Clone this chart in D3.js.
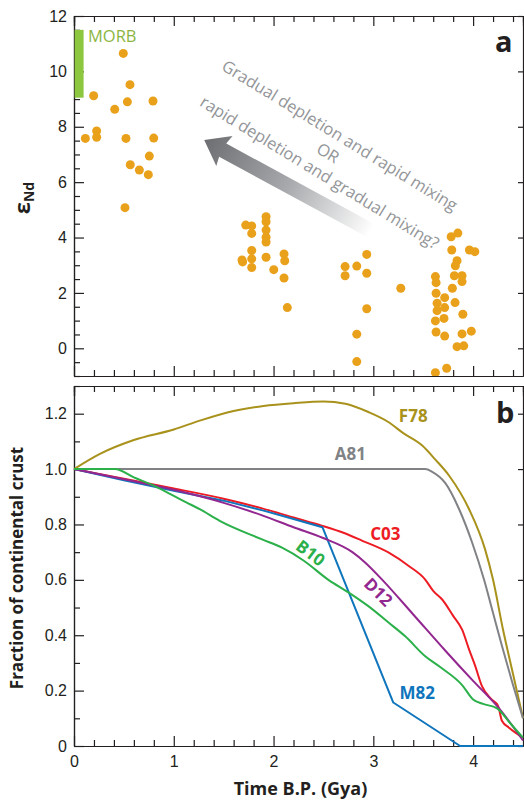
<!DOCTYPE html>
<html>
<head>
<meta charset="utf-8">
<script src="https://cdn.jsdelivr.net/npm/d3@7"></script>
<style>
  body { margin: 0; background: #fff; }
  svg { font-family: "Open Sans", "Noto Sans", sans-serif; }
  .axis path, .axis line { stroke: #231f20; stroke-width: 1.2; }
  .axis text { font-size: 16px; fill: #231f20; }
</style>
</head>
<body>
<svg id="chart" width="524" height="800"></svg>
<script>
// ---- panel a : eps Nd samples  [age Gya, eps Nd]
var samples = [
  [0.494,10.65],[0.197,9.12],[0.561,9.52],[0.535,8.9],[0.792,8.93],[0.408,8.63],
  [0.227,7.85],[0.227,7.62],[0.114,7.58],[0.521,7.58],[0.799,7.59],[0.755,6.94],
  [0.564,6.63],[0.655,6.44],[0.745,6.27],[0.511,5.08],
  [1.721,4.45],[1.781,4.42],[1.781,4.15],[1.781,3.53],[1.684,3.19],[1.690,3.12],
  [1.781,3.23],[1.781,2.92],
  [1.925,4.75],[1.925,4.57],[1.925,4.27],[1.925,4.01],[1.925,3.84],[1.925,3.29],
  [2.002,2.84],[2.105,3.41],[2.112,3.16],[2.105,2.54],[2.138,1.47],
  [2.717,2.95],[2.717,2.62],[2.834,2.97],[2.934,3.39],[2.934,2.71],[2.934,1.43],
  [2.834,0.51],[2.834,-0.48],
  [3.275,2.17],
  [3.622,2.59],[3.629,2.37],[3.629,1.99],[3.639,1.63],[3.639,1.36],[3.622,0.99],
  [3.629,0.59],[3.622,-0.88],
  [3.715,1.83],[3.715,1.47],[3.708,1.08],[3.715,0.44],[3.735,-0.72],
  [3.780,4.03],[3.847,4.16],[3.786,3.55],[3.839,3.16],[3.822,2.98],[3.812,2.62],
  [3.889,2.62],[3.889,2.41],[3.792,2.17],[3.819,1.65],[3.897,1.23],[3.889,0.52],
  [3.982,0.62],[3.839,0.06],[3.906,0.09],[3.963,3.55],[4.017,3.49]
];
var morbRange = [9.05, 11.5];

// ---- panel b : fraction of continental crust models
var f78 = [[0,1.0],[0.26,1.055],[0.6,1.105],[1.0,1.143],[1.26,1.175],[1.6,1.21],[1.9,1.228],
  [2.2,1.238],[2.5,1.244],[2.72,1.236],[2.95,1.206],[3.15,1.17],[3.3,1.13],[3.49,1.085],
  [3.62,1.035],[3.76,0.976],[3.96,0.855],[4.12,0.71],[4.2,0.6],[4.3,0.42],[4.4,0.26],[4.5,0.1]];
var a81 = [[0,1.0],[3.52,1.0],[3.59,0.99],[3.72,0.95],[3.86,0.855],[3.99,0.735],[4.11,0.6],
  [4.2,0.48],[4.29,0.36],[4.4,0.22],[4.5,0.1]];
var c03 = [[0,1.0],[0.5,0.965],[1.0,0.93],[1.5,0.893],[1.885,0.858],[2.2,0.825],[2.49,0.795],
  [2.7,0.77],[2.89,0.741],[3.155,0.698],[3.355,0.65],[3.52,0.601],[3.6,0.56],[3.69,0.529],
  [3.8,0.47],[3.89,0.42],[3.96,0.348],[4.02,0.29],[4.09,0.215],[4.18,0.17],[4.25,0.145],
  [4.29,0.09],[4.36,0.066],[4.5,0.03]];
var m82 = [[0,1.0],[0.5,0.96],[1.0,0.922],[1.5,0.886],[1.9,0.85],[2.2,0.82],[2.49,0.79],
  [3.2,0.157],[3.87,0],[4.5,0]];
var d12 = [[0,1.0],[0.5,0.963],[1.0,0.925],[1.5,0.878],[1.885,0.833],[2.2,0.79],[2.49,0.752],
  [2.79,0.70],[2.92,0.662],[3.09,0.60],[3.4,0.475],[3.72,0.345],[4.0,0.235],[4.25,0.14],[4.5,0.02]];
var b10 = [[0,1.0],[0.41,1.0],[0.6,0.97],[0.8,0.94],[1.0,0.903],[1.13,0.879],[1.26,0.855],
  [1.46,0.813],[1.885,0.746],[2.085,0.716],[2.3,0.67],[2.55,0.60],[2.75,0.555],[2.95,0.505],
  [3.155,0.445],[3.32,0.396],[3.52,0.324],[3.67,0.285],[3.89,0.22],[4.0,0.168],[4.1,0.152],
  [4.24,0.136],[4.37,0.083],[4.5,0.03]];

var models = [
  {name: 'F78', data: f78, color: '#a8921c', lab: [3.40, 1.19], rot: 0, smooth: true},
  {name: 'A81', data: a81, color: '#808285', lab: [2.77, 1.055], rot: 0, smooth: true},
  {name: 'C03', data: c03, color: '#ed1c24', lab: [3.12, 0.766], rot: 0, smooth: true},
  {name: 'M82', data: m82, color: '#0f75bc', lab: [3.44, 0.191], rot: 0, smooth: false},
  {name: 'D12', data: d12, color: '#92278f', lab: [3.05, 0.556], rot: 45, smooth: true},
  {name: 'B10', data: b10, color: '#2bb04a', lab: [2.37, 0.697], rot: 37, smooth: true}
];

var xTicks = [0, 1, 2, 3, 4];
var yTicksA = [0, 2, 4, 6, 8, 10, 12];
var yTicksB = [0, 0.2, 0.4, 0.6, 0.8, 1.0, 1.2];

var svg = d3.select('#chart');
var left = 74, right = 523;
var topA = 16, botA = 376, topB = 386, botB = 746;

var x = d3.scaleLinear().domain([0, 4.5]).range([left, right]);
var yA = d3.scaleLinear().domain([-1, 12]).range([botA, topA]);
var yB = d3.scaleLinear().domain([0, 1.3]).range([botB, topB]);

var xMinor = d3.range(0, 4.51, 0.2).filter(function(d){ return Math.abs(d - Math.round(d)) > 1e-6; });

// frame axes for a panel
function frame(y, top, bot, yMajor, yMinor, fmt, xLabels) {
    svg.append('g').attr('class', 'axis').attr('transform', 'translate(0,' + top + ')')
        .call(d3.axisBottom(x).tickValues(xTicks).tickSize(10).tickFormat(''));
    svg.append('g').attr('class', 'axis').attr('transform', 'translate(0,' + top + ')')
        .call(d3.axisBottom(x).tickValues(xMinor).tickSize(6).tickFormat(''));
    svg.append('g').attr('class', 'axis').attr('transform', 'translate(0,' + bot + ')')
        .call(d3.axisBottom(x).tickValues(xTicks).tickSizeInner(-10).tickSizeOuter(0).tickPadding(10)
            .tickFormat(xLabels ? d3.format('d') : ''));
    svg.append('g').attr('class', 'axis').attr('transform', 'translate(0,' + bot + ')')
        .call(d3.axisBottom(x).tickValues(xMinor).tickSizeInner(-6).tickSizeOuter(0).tickFormat(''));

    svg.append('g').attr('class', 'axis').attr('transform', 'translate(' + left + ',0)')
        .call(d3.axisLeft(y).tickValues(yMajor).tickSizeInner(-10).tickSizeOuter(0).tickPadding(7).tickFormat(fmt));
    svg.append('g').attr('class', 'axis').attr('transform', 'translate(' + left + ',0)')
        .call(d3.axisLeft(y).tickValues(yMinor).tickSizeInner(-6).tickSizeOuter(0).tickFormat(''));
    svg.append('g').attr('class', 'axis').attr('transform', 'translate(' + right + ',0)')
        .call(d3.axisRight(y).tickValues(yMajor).tickSizeInner(-5).tickSizeOuter(0).tickFormat(''));
}

var minorA = d3.range(-1, 12.01, 0.5).filter(function(d){ return d % 2 !== 0; });
var minorB = d3.range(0.1, 1.31, 0.2).map(function(d){ return +d.toFixed(1); });
frame(yA, topA, botA, yTicksA, minorA, d3.format('d'), false);
frame(yB, topB, botB, yTicksB, minorB, function(d){ return d === 0 ? '0' : d3.format('.1f')(d); }, true);

// ---- panel a content
svg.append('clipPath').attr('id', 'clipA').append('rect')
    .attr('x', left).attr('y', topA).attr('width', right - left).attr('height', botA - topA);

svg.append('rect')
    .attr('x', x(0) + 0.6).attr('y', yA(morbRange[1]))
    .attr('width', 9).attr('height', yA(morbRange[0]) - yA(morbRange[1]))
    .attr('fill', '#8dc63f');
svg.append('text').attr('x', x(0) + 14).attr('y', yA(11.05))
    .attr('font-size', 16.5).attr('fill', '#8bb541').text('MORB');

// arrow with fading gradient
var defs = svg.append('defs');
var grad = defs.append('linearGradient').attr('id', 'arrowGrad')
    .attr('x1', '0%').attr('x2', '100%').attr('y1', '0%').attr('y2', '0%');
grad.append('stop').attr('offset', '0%').attr('stop-color', '#6d6e71');
grad.append('stop').attr('offset', '50%').attr('stop-color', '#a7a9ac');
grad.append('stop').attr('offset', '100%').attr('stop-color', '#ffffff');

var tip = [x(1.305), yA(7.52)];
var arrowLen = 190;
svg.append('path')
    .attr('transform', 'translate(' + tip[0] + ',' + tip[1] + ') rotate(28.5)')
    .attr('d', 'M0,0 L23,-17 L21,-7.5 L' + arrowLen + ',-7.5 L' + arrowLen + ',7.5 L21,7.5 L23,17 Z')
    .attr('fill', 'url(#arrowGrad)');

var note = svg.append('g')
    .attr('transform', 'translate(328,153) rotate(31.5)')
    .attr('font-size', 16.5).attr('fill', '#939598').attr('text-anchor', 'middle');
note.append('text').attr('x', 1).attr('y', -21).attr('dy', '0.35em').text('Gradual depletion and rapid mixing');
note.append('text').attr('x', 0).attr('y', 0).attr('dy', '0.35em').text('OR');
note.append('text').attr('x', 3).attr('y', 21).attr('dy', '0.35em').text('rapid depletion and gradual mixing?');

svg.append('g').attr('clip-path', 'url(#clipA)')
  .selectAll('circle').data(samples).enter().append('circle')
    .attr('cx', function(d){ return x(d[0]); })
    .attr('cy', function(d){ return yA(d[1]); })
    .attr('r', 4.5)
    .attr('fill', '#e9a11b');

// ---- panel b content
var lineSmooth = d3.line().curve(d3.curveMonotoneX)
    .x(function(d){ return x(d[0]); })
    .y(function(d){ return yB(d[1]); });
var lineStraight = d3.line()
    .x(function(d){ return x(d[0]); })
    .y(function(d){ return yB(d[1]); });

svg.append('g').selectAll('path').data(models).enter().append('path')
    .attr('d', function(d){ return d.smooth ? lineSmooth(d.data) : lineStraight(d.data); })
    .attr('fill', 'none')
    .attr('stroke', function(d){ return d.color; })
    .attr('stroke-width', 2)
    .attr('stroke-linejoin', 'round');

svg.append('g').selectAll('text').data(models).enter().append('text')
    .attr('transform', function(d){
        return 'translate(' + x(d.lab[0]) + ',' + yB(d.lab[1]) + ') rotate(' + d.rot + ')';
    })
    .attr('text-anchor', 'middle').attr('dy', '0.35em')
    .attr('font-size', 17).attr('font-weight', 'bold')
    .attr('fill', function(d){ return d.color; })
    .text(function(d){ return d.name; });

// ---- panel letters and axis titles
svg.append('text').attr('x', 495).attr('y', 52).attr('font-size', 29).attr('font-weight', 'bold')
    .attr('fill', '#231f20').text('a');
svg.append('text').attr('x', 496).attr('y', 423).attr('font-size', 29).attr('font-weight', 'bold')
    .attr('fill', '#231f20').text('b');

var epsLab = svg.append('text')
    .attr('transform', 'translate(30,198) rotate(-90)')
    .attr('text-anchor', 'middle').attr('font-weight', 'bold').attr('fill', '#231f20');
epsLab.append('tspan').attr('font-size', 22).text('ε');
epsLab.append('tspan').attr('font-size', 14).attr('dy', 4).text('Nd');

svg.append('text')
    .attr('transform', 'translate(23,568) rotate(-90)')
    .attr('text-anchor', 'middle').attr('font-size', 17).attr('font-weight', 'bold')
    .attr('fill', '#231f20').text('Fraction of continental crust');

svg.append('text')
    .attr('x', x(2.27)).attr('y', 795)
    .attr('text-anchor', 'middle').attr('font-size', 18).attr('font-weight', 'bold')
    .attr('fill', '#231f20').text('Time B.P. (Gya)');
</script>
</body>
</html>
